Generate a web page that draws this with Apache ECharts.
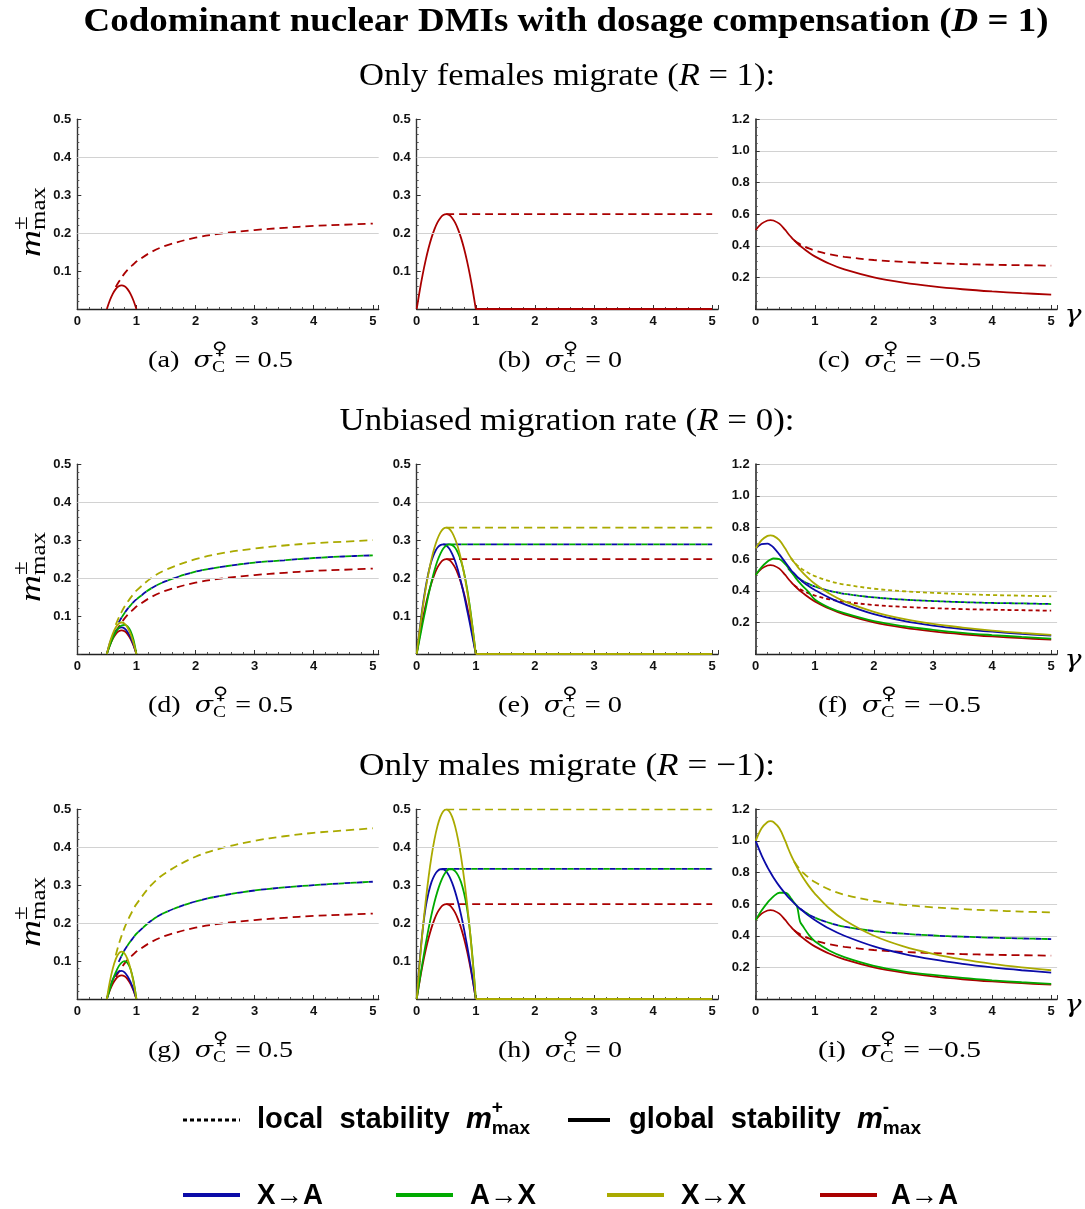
<!DOCTYPE html>
<html>
<head>
<meta charset="utf-8">
<script src="https://cdn.jsdelivr.net/npm/echarts@6/dist/echarts.min.js"></script>
<style>
html, body { margin: 0; padding: 0; background: #fff; }
#main { width: 1085px; height: 1209px; }
</style>
</head>
<body>
<div id="main"></div>
<script>
//----------------------- data -----------------------
// left column, sigma = 0.5
var gamL = [0.5, 0.55, 0.6, 0.65, 0.7, 0.75, 0.8, 0.85, 0.9, 0.95, 1, 1.25, 1.5, 2, 2.5, 3, 3.5, 4, 4.5, 5];
var redArchL = [0, 0.0225, 0.04, 0.0525, 0.06, 0.0625, 0.06, 0.0525, 0.04, 0.0225, 0];
var redDashL = [null, null, null, 0.058, 0.071, 0.083, 0.094, 0.103, 0.111, 0.118, 0.125, 0.15, 0.167, 0.188, 0.2, 0.208, 0.214, 0.219, 0.222, 0.225];
var yelArchD = [0, 0.03, 0.053, 0.07, 0.08, 0.083, 0.08, 0.07, 0.053, 0.03, 0];
var grnArchD = [0, 0.022, 0.042, 0.058, 0.069, 0.075, 0.077, 0.073, 0.061, 0.038, 0];
var bluArchD = [0, 0.028, 0.048, 0.061, 0.068, 0.07, 0.067, 0.058, 0.044, 0.025, 0];
var yelDashD = [null, null, null, 0.077, 0.095, 0.111, 0.125, 0.137, 0.148, 0.158, 0.167, 0.2, 0.222, 0.25, 0.267, 0.278, 0.286, 0.292, 0.296, 0.3];
var bgDashD = [null, null, null, null, 0.083, 0.096, 0.108, 0.119, 0.128, 0.137, 0.144, 0.173, 0.192, 0.217, 0.231, 0.241, 0.247, 0.253, 0.257, 0.26];
var yelArchG = [0, 0.045, 0.08, 0.105, 0.12, 0.125, 0.12, 0.105, 0.08, 0.045, 0];
var grnArchG = [0, 0.025, 0.05, 0.07, 0.086, 0.096, 0.1, 0.095, 0.079, 0.048, 0];
var bluArchG = [0, 0.03, 0.051, 0.065, 0.072, 0.074, 0.07, 0.06, 0.045, 0.025, 0];
var yelDashG = [null, null, null, 0.115, 0.143, 0.167, 0.188, 0.206, 0.222, 0.237, 0.25, 0.3, 0.333, 0.375, 0.4, 0.417, 0.429, 0.438, 0.444, 0.45];
var bgDashG = [null, null, null, null, 0.098, 0.114, 0.129, 0.141, 0.152, 0.162, 0.172, 0.206, 0.229, 0.257, 0.274, 0.286, 0.294, 0.3, 0.305, 0.309];

// middle column, sigma = 0
var gamM = [0, 0.05, 0.1, 0.15, 0.2, 0.25, 0.3, 0.35, 0.4, 0.45, 0.5, 0.55, 0.6, 0.65, 0.7, 0.75, 0.8, 0.85, 0.9, 0.95, 1];
var redArchM = [0, 0.0475, 0.09, 0.1275, 0.16, 0.1875, 0.21, 0.2275, 0.24, 0.2475, 0.25, 0.2475, 0.24, 0.2275, 0.21, 0.1875, 0.16, 0.1275, 0.09, 0.0475, 0];
var yelArchE = [0, 0.063, 0.12, 0.17, 0.213, 0.25, 0.28, 0.303, 0.32, 0.33, 0.333, 0.33, 0.32, 0.303, 0.28, 0.25, 0.213, 0.17, 0.12, 0.063, 0];
var bluArchE = [0, 0.065, 0.125, 0.175, 0.215, 0.245, 0.266, 0.28, 0.287, 0.289, 0.286, 0.278, 0.264, 0.245, 0.22, 0.19, 0.156, 0.118, 0.08, 0.04, 0];
var grnArchE = [0, 0.04, 0.08, 0.118, 0.156, 0.19, 0.22, 0.245, 0.264, 0.278, 0.286, 0.289, 0.287, 0.28, 0.266, 0.245, 0.215, 0.175, 0.125, 0.065, 0];
var yelArchH = [0, 0.095, 0.18, 0.255, 0.32, 0.375, 0.42, 0.455, 0.48, 0.495, 0.5, 0.495, 0.48, 0.455, 0.42, 0.375, 0.32, 0.255, 0.18, 0.095, 0];
var bluArchH = [0, 0.1, 0.18, 0.24, 0.28, 0.308, 0.326, 0.337, 0.342, 0.342, 0.336, 0.324, 0.306, 0.283, 0.255, 0.222, 0.185, 0.143, 0.098, 0.05, 0];
var grnArchH = [0, 0.05, 0.098, 0.143, 0.185, 0.222, 0.255, 0.283, 0.306, 0.324, 0.336, 0.342, 0.342, 0.337, 0.326, 0.308, 0.28, 0.24, 0.18, 0.1, 0];
var gamFlatRed = [0.5, 5], redFlat = [0.25, 0.25];
var gamFlatYel = [0.5, 5], yelFlatE = [0.333, 0.333], yelFlatH = [0.5, 0.5];
var gamFlatBgE = [0.45, 5], bgFlatE = [0.289, 0.289];
var gamFlatBgH = [0.42, 5], bgFlatH = [0.343, 0.343];
var gamZero = [1, 5], zeroLine = [0, 0];

// right column, sigma = -0.5
var gamR = [0, 0.1, 0.2, 0.25, 0.3, 0.4, 0.5, 0.55, 0.6, 0.65, 0.7, 0.75, 0.8, 0.9, 1, 1.25, 1.5, 2, 2.5, 3, 3.5, 4, 4.5, 5];
var redSolidR = [0.5, 0.54, 0.56, 0.5625, 0.56, 0.54, 0.5, 0.476, 0.455, 0.435, 0.417, 0.4, 0.385, 0.357, 0.333, 0.286, 0.25, 0.2, 0.167, 0.143, 0.125, 0.111, 0.1, 0.091];
var redDashR = [null, null, null, null, null, null, null, null, null, 0.435, 0.421, 0.41, 0.4, 0.383, 0.37, 0.346, 0.33, 0.31, 0.298, 0.29, 0.284, 0.28, 0.277, 0.274];
var yelSolidF = [0.667, 0.72, 0.747, 0.75, 0.747, 0.72, 0.667, 0.635, 0.606, 0.58, 0.556, 0.533, 0.513, 0.476, 0.444, 0.381, 0.333, 0.267, 0.222, 0.19, 0.167, 0.148, 0.133, 0.121];
var yelDashF = [null, null, null, null, null, null, null, null, 0.606, 0.58, 0.562, 0.547, 0.533, 0.511, 0.493, 0.461, 0.44, 0.413, 0.397, 0.387, 0.379, 0.373, 0.369, 0.365];
var bluSolidF = [0.667, 0.695, 0.698, 0.69, 0.675, 0.63, 0.58, 0.555, 0.53, 0.51, 0.49, 0.472, 0.455, 0.428, 0.405, 0.355, 0.315, 0.252, 0.21, 0.18, 0.158, 0.141, 0.127, 0.116];
var grnSolidF = [0.5, 0.55, 0.585, 0.597, 0.604, 0.6, 0.568, 0.545, 0.52, 0.495, 0.47, 0.448, 0.428, 0.39, 0.345, 0.292, 0.258, 0.208, 0.176, 0.153, 0.134, 0.12, 0.108, 0.097];
var bgDashF = [null, null, null, null, null, null, null, 0.541, 0.52, 0.502, 0.487, 0.474, 0.462, 0.443, 0.427, 0.4, 0.381, 0.358, 0.344, 0.335, 0.328, 0.323, 0.32, 0.316];
var yelSolidI = [1.0, 1.08, 1.12, 1.125, 1.12, 1.08, 1.0, 0.952, 0.909, 0.87, 0.833, 0.8, 0.769, 0.714, 0.667, 0.571, 0.5, 0.4, 0.333, 0.286, 0.25, 0.222, 0.2, 0.182];
var yelDashI = [null, null, null, null, null, null, null, null, null, 0.869, 0.843, 0.82, 0.8, 0.767, 0.74, 0.692, 0.66, 0.62, 0.596, 0.58, 0.569, 0.56, 0.553, 0.548];
var bluSolidI = [1.0, 0.909, 0.833, 0.8, 0.769, 0.714, 0.667, 0.645, 0.625, 0.606, 0.588, 0.571, 0.556, 0.526, 0.5, 0.444, 0.4, 0.333, 0.286, 0.25, 0.222, 0.2, 0.182, 0.167];
var grnSolidI = [0.5, 0.56, 0.61, 0.63, 0.648, 0.672, 0.672, 0.662, 0.635, 0.61, 0.585, 0.49, 0.46, 0.405, 0.365, 0.305, 0.265, 0.21, 0.175, 0.152, 0.133, 0.118, 0.106, 0.096];
var bgDashI = [null, null, null, null, null, null, null, null, null, null, null, 0.572, 0.558, 0.534, 0.515, 0.481, 0.458, 0.43, 0.413, 0.402, 0.394, 0.388, 0.383, 0.379];

var xTicks = [0, 1, 2, 3, 4, 5];
var captionLetters = ['a', 'b', 'c', 'd', 'e', 'f', 'g', 'h', 'i'];
var sigmaLabels = ['0.5', '0', '\u22120.5'];
var rowTitles = [['Only females migrate (', 'R', ' = 1):'], ['Unbiased migration rate (', 'R', ' = 0):'], ['Only males migrate (', 'R', ' = \u22121):']];
var legendNames = ['X\u2192A', 'A\u2192X', 'X\u2192X', 'A\u2192A'];

//----------------------- layout -----------------------
var cBlue = '#0b0ba8', cGreen = '#00aa00', cYellow = '#aaaa00', cRed = '#aa0000';
var legendColors = [cBlue, cGreen, cYellow, cRed];
var SERIF = '"Liberation Serif", "DejaVu Serif", serif';
var GREEK = '"DejaVu Serif", serif';
var SANS = '"Liberation Sans", Arial, sans-serif';
var colX = [77.3, 416.7, 755.7];
var rowTop = [119.3, 464.3, 809.3];
var plotW = 301.4, plotH = 189.7;

var mctx = document.createElement('canvas').getContext('2d');
function measure(t, f) { mctx.font = f; return mctx.measureText(t).width; }

// pieces laid side by side; "stack" keeps the next piece at the same x (sup over sub)
function textGroup(parts, x, y, opt) {
    opt = opt || {};
    var cx = 0, hold = 0, kids = [];
    for (var i = 0; i < parts.length; i++) {
        var p = parts[i];
        var w = measure(p.t, p.f);
        kids.push({
            type: 'text', x: cx, y: p.dy || 0, silent: true,
            style: { text: p.t, font: p.f, fill: opt.color || '#000', textAlign: 'left', textVerticalAlign: 'middle' }
        });
        if (p.stack) { hold = Math.max(hold, w); }
        else { cx += Math.max(w, hold); hold = 0; }
    }
    var shift = opt.left ? 0 : -cx / 2;
    kids.forEach(function (k) { k.x += shift; });
    return {
        type: 'group', x: x, y: y, rotation: opt.rotation || 0,
        scaleX: opt.width ? opt.width / cx : 1, children: kids
    };
}

function pts(xs, ys) {
    var out = [];
    for (var i = 0; i < xs.length; i++) {
        if (ys[i] != null) out.push([xs[i], ys[i]]);
    }
    return out;
}

function curve(p, xs, ys, color, dash, off) {
    return {
        type: 'line', xAxisIndex: p, yAxisIndex: p, data: pts(xs, ys),
        showSymbol: false, symbol: 'none', smooth: 0.35,
        silent: true, z: dash ? 3 : 4,
        lineStyle: { color: color, width: 1.8, type: dash || 'solid', dashOffset: off || 0 }
    };
}

var grids = [], xAxes = [], yAxes = [], series = [];
for (var r = 0; r < 3; r++) {
    for (var c = 0; c < 3; c++) {
        var p = r * 3 + c;
        grids.push({ left: colX[c], top: rowTop[r], width: plotW, height: plotH, containLabel: false, outerBoundsMode: 'none' });
        xAxes.push({
            type: 'value', gridIndex: p, min: 0, max: 5.1, interval: 1,
            axisLine: { show: true, onZero: false, lineStyle: { color: '#222', width: 1.4 } },
            axisTick: { show: true, inside: true, length: 4, lineStyle: { color: '#333' } },
            minorTick: { show: true, splitNumber: 5, length: 2, lineStyle: { color: '#555' } },
            splitLine: { show: false },
            axisLabel: {
                margin: 6, fontSize: 13, fontWeight: 'bold', fontFamily: SANS, color: '#111',
                formatter: function (v) { return Math.abs(v - Math.round(v)) < 1e-6 && xTicks.indexOf(Math.round(v)) >= 0 ? String(Math.round(v)) : ''; }
            }
        });
        yAxes.push({
            type: 'value', gridIndex: p, min: 0, max: c === 2 ? 1.2 : 0.5, interval: c === 2 ? 0.2 : 0.1,
            axisLine: { show: true, onZero: false, lineStyle: { color: c === 2 ? '#555' : '#333', width: c === 2 ? 2 : 1.4 } },
            axisTick: { show: true, inside: true, length: 4, lineStyle: { color: '#333' } },
            minorTick: { show: true, splitNumber: c === 2 ? 4 : 5, length: 2, lineStyle: { color: '#555' } },
            splitLine: { show: c === 2, lineStyle: { color: '#d2d2d2', width: 1 } },
            axisLabel: {
                margin: 6, fontSize: 13, fontWeight: 'bold', fontFamily: SANS, color: '#111',
                showMinLabel: false,
                formatter: function (v) { return v.toFixed(1); }
            }
        });
        if (c < 2) {
            series.push({
                type: 'line', xAxisIndex: p, yAxisIndex: p, data: [], z: 1, silent: true,
                markLine: {
                    silent: true, symbol: 'none', label: { show: false },
                    lineStyle: { color: '#d2d2d2', type: 'solid', width: 1 },
                    data: [{ yAxis: 0.2 }, { yAxis: 0.4 }]
                }
            });
        }
    }
}

var D = [8, 5], DS = [4, 3], BG = [6, 6], BGS = [3, 3];
// (a)
series.push(curve(0, gamL, redArchL, cRed), curve(0, gamL, redDashL, cRed, D));
// (b)
series.push(curve(1, gamM, redArchM, cRed), curve(1, gamFlatRed, redFlat, cRed, D), curve(1, gamZero, zeroLine, cRed));
// (c)
series.push(curve(2, gamR, redSolidR, cRed), curve(2, gamR, redDashR, cRed, D));
// (d)
series.push(
    curve(3, gamL, redArchL, cRed), curve(3, gamL, bluArchD, cBlue), curve(3, gamL, grnArchD, cGreen), curve(3, gamL, yelArchD, cYellow),
    curve(3, gamL, redDashL, cRed, D), curve(3, gamL, bgDashD, cBlue, BG), curve(3, gamL, bgDashD, cGreen, BG, 6), curve(3, gamL, yelDashD, cYellow, D)
);
// (e)
series.push(
    curve(4, gamM, redArchM, cRed), curve(4, gamM, bluArchE, cBlue), curve(4, gamM, grnArchE, cGreen), curve(4, gamM, yelArchE, cYellow),
    curve(4, gamFlatRed, redFlat, cRed, D), curve(4, gamFlatBgE, bgFlatE, cBlue, BG), curve(4, gamFlatBgE, bgFlatE, cGreen, BG, 6),
    curve(4, gamFlatYel, yelFlatE, cYellow, D), curve(4, gamZero, zeroLine, cYellow)
);
// (f)
series.push(
    curve(5, gamR, redSolidR, cRed), curve(5, gamR, grnSolidF, cGreen), curve(5, gamR, bluSolidF, cBlue), curve(5, gamR, yelSolidF, cYellow),
    curve(5, gamR, redDashR, cRed, DS), curve(5, gamR, bgDashF, cBlue, BGS), curve(5, gamR, bgDashF, cGreen, BGS, 3), curve(5, gamR, yelDashF, cYellow, DS)
);
// (g)
series.push(
    curve(6, gamL, redArchL, cRed), curve(6, gamL, bluArchG, cBlue), curve(6, gamL, grnArchG, cGreen), curve(6, gamL, yelArchG, cYellow),
    curve(6, gamL, redDashL, cRed, D), curve(6, gamL, bgDashG, cBlue, BG), curve(6, gamL, bgDashG, cGreen, BG, 6), curve(6, gamL, yelDashG, cYellow, D)
);
// (h)
series.push(
    curve(7, gamM, redArchM, cRed), curve(7, gamM, bluArchH, cBlue), curve(7, gamM, grnArchH, cGreen), curve(7, gamM, yelArchH, cYellow),
    curve(7, gamFlatRed, redFlat, cRed, D), curve(7, gamFlatBgH, bgFlatH, cBlue, BG), curve(7, gamFlatBgH, bgFlatH, cGreen, BG, 6),
    curve(7, gamFlatYel, yelFlatH, cYellow, D), curve(7, gamZero, zeroLine, cYellow)
);
// (i)
series.push(
    curve(8, gamR, redSolidR, cRed), curve(8, gamR, grnSolidI, cGreen), curve(8, gamR, bluSolidI, cBlue), curve(8, gamR, yelSolidI, cYellow),
    curve(8, gamR, redDashR, cRed, D), curve(8, gamR, bgDashI, cBlue, BG), curve(8, gamR, bgDashI, cGreen, BG, 6), curve(8, gamR, yelDashI, cYellow, D)
);

//----------------------- texts -----------------------
var graphic = [];
var fT = 'bold 34px ' + SERIF;
graphic.push(textGroup([
    { t: 'Codominant nuclear DMIs with dosage compensation (', f: fT },
    { t: 'D', f: 'italic bold 34px ' + SERIF },
    { t: ' = 1)', f: fT }
], 566, 22, { width: 965 }));

var rowTitleW = [416, 455, 416];
var capW = [145, 124, 163], capX = [220.5, 560, 899.5];
for (var r = 0; r < 3; r++) {
    var f = '32px ' + SERIF;
    graphic.push(textGroup([
        { t: rowTitles[r][0], f: f },
        { t: rowTitles[r][1], f: 'italic 32px ' + SERIF },
        { t: rowTitles[r][2], f: f }
    ], 567, 77 + r * 345, { width: rowTitleW[r] }));

    var y0 = rowTop[r] + plotH;
    // y axis name m±max
    graphic.push(textGroup([
        { t: 'm', f: 'italic 30px ' + SERIF },
        { t: '\u00b1', f: '20px ' + SERIF, dy: -10, stack: true },
        { t: 'max', f: '20px ' + SERIF, dy: 8 }
    ], 32, y0 - 87, { width: 70, rotation: Math.PI / 2 }));
    // gamma
    graphic.push(textGroup([{ t: '\u03b3', f: 'italic 24px ' + GREEK }], 1073, y0 + 7, { width: 17 }));

    for (var c = 0; c < 3; c++) {
        var fc = '23px ' + SERIF;
        graphic.push(textGroup([
            { t: '(' + captionLetters[r * 3 + c] + ')  ', f: fc },
            { t: '\u03c3', f: 'italic 22px ' + GREEK },
            { t: '\u2640', f: '17px "DejaVu Sans", sans-serif', dy: -11, stack: true },
            { t: 'C', f: '16px ' + SERIF, dy: 7 },
            { t: ' = ' + sigmaLabels[c], f: fc }
        ], capX[c], y0 + 52, { width: capW[c] }));
    }
}

// legend
var fL = 'bold 29px ' + SANS, fLi = 'italic bold 29px ' + SANS, fLs = 'bold 19px ' + SANS;
graphic.push({ type: 'line', silent: true, shape: { x1: 183, y1: 1120, x2: 240, y2: 1120 }, style: { stroke: '#000', lineWidth: 3, lineDash: [4, 3] } });
graphic.push(textGroup([
    { t: 'local  stability  ', f: fL }, { t: 'm', f: fLi },
    { t: '+', f: fLs, dy: -12, stack: true }, { t: 'max', f: fLs, dy: 9 }
], 257, 1120, { left: true, width: 273 }));
graphic.push({ type: 'line', silent: true, shape: { x1: 568, y1: 1120, x2: 610, y2: 1120 }, style: { stroke: '#000', lineWidth: 4 } });
graphic.push(textGroup([
    { t: 'global  stability  ', f: fL }, { t: 'm', f: fLi },
    { t: '-', f: fLs, dy: -12, stack: true }, { t: 'max', f: fLs, dy: 9 }
], 629, 1120, { left: true, width: 292 }));

var legLineX = [183, 396, 607, 820], legTextX = [257, 470, 681, 891], legTextW = [66, 66, 65, 67];
for (var k = 0; k < 4; k++) {
    graphic.push({ type: 'line', silent: true, shape: { x1: legLineX[k], y1: 1195, x2: legLineX[k] + 57, y2: 1195 }, style: { stroke: legendColors[k], lineWidth: 4 } });
    graphic.push(textGroup([{ t: legendNames[k], f: fL }], legTextX[k], 1196, { left: true, width: legTextW[k] }));
}

var dom = document.getElementById('main');
var myChart = echarts.init(dom);
var option = {
    backgroundColor: '#fff',
    animation: false,
    grid: grids,
    xAxis: xAxes,
    yAxis: yAxes,
    series: series,
    graphic: graphic
};
if (option && typeof option === "object") {
    myChart.setOption(option, true);
}
</script>
</body>
</html>
